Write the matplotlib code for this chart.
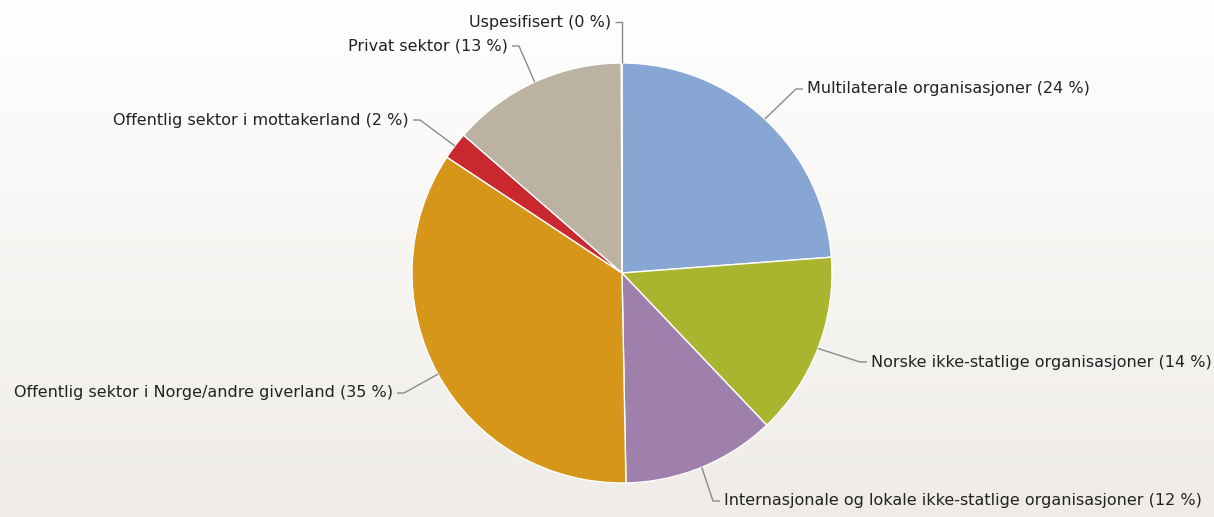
import numpy as np
import matplotlib.pyplot as plt

# Andel per mottakergruppe (prosent), med klokka fra toppen
labels = [
    "Multilaterale organisasjoner",
    "Norske ikke-statlige organisasjoner",
    "Internasjonale og lokale ikke-statlige organisasjoner",
    "Offentlig sektor i Norge/andre giverland",
    "Offentlig sektor i mottakerland",
    "Privat sektor",
    "Uspesifisert",
]
values = [23.8, 14.1, 11.8, 34.6, 2.1, 13.55, 0.05]
shown_pct = [24, 14, 12, 35, 2, 13, 0]
colors = ["#88a6d3", "#a9b52f", "#9f80ac", "#d5961a", "#c8282e", "#bbb2a2", "#7f7f7f"]

W, H = 1214, 517
cx, cy, R = 622, H - 273, 210

# etikettplassering (piksler): elbow-punkt og side
label_pos = [
    (796, H - 89, "left"),
    (860, H - 362, "left"),
    (713, H - 501, "left"),
    (404, H - 393, "right"),
    (420, H - 120, "right"),
    (519, H - 46, "right"),
    (622, H - 22, "right"),
]

fig = plt.figure(figsize=(W / 100, H / 100), dpi=100)
ax = fig.add_axes([0, 0, 1, 1])

# bakgrunn med gradient
top = np.array([255, 255, 255]) / 255
bot = np.array([239, 236, 231]) / 255
t = np.linspace(0, 1, 256)[:, None]
grad = top + (bot - top) * t
ax.imshow(grad[:, None, :], extent=[0, W, 0, H], aspect="auto", zorder=0, origin="upper")

wedges, _ = ax.pie(values, colors=colors, startangle=90, counterclock=False,
                   center=(cx, cy), radius=R, frame=True,
                   wedgeprops=dict(edgecolor="white", linewidth=1.0, zorder=2))
ax.set_xlim(0, W)
ax.set_ylim(0, H)
ax.set_aspect("equal")
ax.axis("off")

cum = np.cumsum([0] + values[:-1])
total = sum(values)
for i, (lab, v, p) in enumerate(zip(labels, values, shown_pct)):
    mid = (cum[i] + v / 2) / total * 2 * np.pi
    ex, ey = cx + R * np.sin(mid), cy + R * np.cos(mid)
    bx, by, side = label_pos[i]
    if i == len(labels) - 1:
        ex = bx
    hx = bx + 7 if side == "left" else bx - 7
    ax.plot([ex, bx, hx], [ey, by, by], color="#8a8a8a", lw=1, zorder=3,
            solid_capstyle="butt")
    tx = hx + 4 if side == "left" else hx - 4
    ax.text(tx, by, f"{lab} ({p} %)", ha=side, va="center", fontsize=11.5,
            color="#222222", family="DejaVu Sans", zorder=4)

fig.savefig("out.png", dpi=100)
